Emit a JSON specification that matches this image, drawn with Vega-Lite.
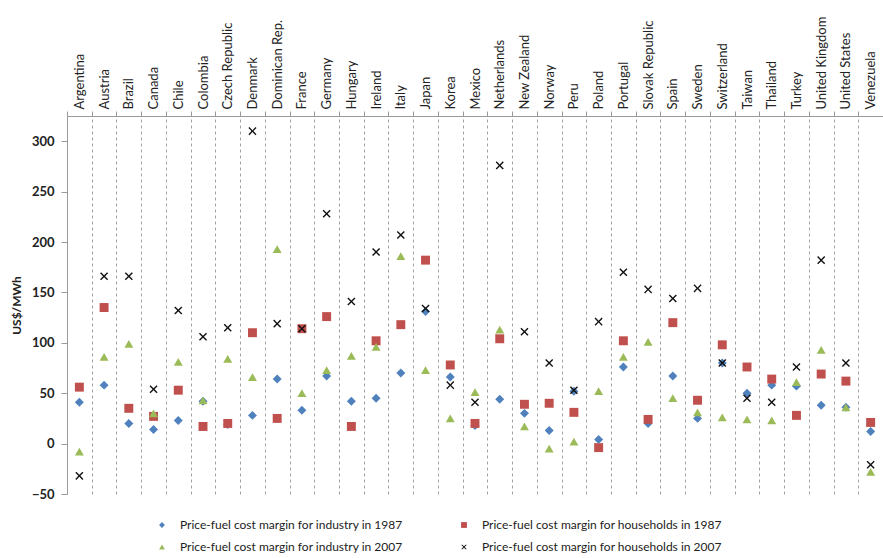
{
  "$schema": "https://vega.github.io/schema/vega-lite/v6.json",
  "width": 816,
  "height": 378,
  "autosize": {"type": "none"},
  "padding": {"left": 67, "top": 116, "right": 0, "bottom": 64},
  "background": "white",
  "config": {
    "view": {"stroke": null},
    "font": "Lato",
    "axis": {"labelColor": "#222", "titleColor": "#222", "labelFont": "Lato", "titleFont": "Lato"},
    "legend": {"labelFont": "Lato", "labelColor": "#222"}
  },
  "data": {
    "values": [
      {"country": "Argentina", "series": "i87", "value": 41},
      {"country": "Austria", "series": "i87", "value": 58},
      {"country": "Brazil", "series": "i87", "value": 20},
      {"country": "Canada", "series": "i87", "value": 14},
      {"country": "Chile", "series": "i87", "value": 23},
      {"country": "Colombia", "series": "i87", "value": 42},
      {"country": "Czech Republic", "series": "i87", "value": 19},
      {"country": "Denmark", "series": "i87", "value": 28},
      {"country": "Dominican Rep.", "series": "i87", "value": 64},
      {"country": "France", "series": "i87", "value": 33},
      {"country": "Germany", "series": "i87", "value": 67},
      {"country": "Hungary", "series": "i87", "value": 42},
      {"country": "Ireland", "series": "i87", "value": 45},
      {"country": "Italy", "series": "i87", "value": 70},
      {"country": "Japan", "series": "i87", "value": 131},
      {"country": "Korea", "series": "i87", "value": 66},
      {"country": "Mexico", "series": "i87", "value": 18},
      {"country": "Netherlands", "series": "i87", "value": 44},
      {"country": "New Zealand", "series": "i87", "value": 30},
      {"country": "Norway", "series": "i87", "value": 13},
      {"country": "Peru", "series": "i87", "value": 52},
      {"country": "Poland", "series": "i87", "value": 4},
      {"country": "Portugal", "series": "i87", "value": 76},
      {"country": "Slovak Republic", "series": "i87", "value": 20},
      {"country": "Spain", "series": "i87", "value": 67},
      {"country": "Sweden", "series": "i87", "value": 25},
      {"country": "Switzerland", "series": "i87", "value": 80},
      {"country": "Taiwan", "series": "i87", "value": 50},
      {"country": "Thailand", "series": "i87", "value": 58},
      {"country": "Turkey", "series": "i87", "value": 57},
      {"country": "United Kingdom", "series": "i87", "value": 38},
      {"country": "United States", "series": "i87", "value": 36},
      {"country": "Venezuela", "series": "i87", "value": 12},

      {"country": "Argentina", "series": "h87", "value": 56},
      {"country": "Austria", "series": "h87", "value": 135},
      {"country": "Brazil", "series": "h87", "value": 35},
      {"country": "Canada", "series": "h87", "value": 27},
      {"country": "Chile", "series": "h87", "value": 53},
      {"country": "Colombia", "series": "h87", "value": 17},
      {"country": "Czech Republic", "series": "h87", "value": 20},
      {"country": "Denmark", "series": "h87", "value": 110},
      {"country": "Dominican Rep.", "series": "h87", "value": 25},
      {"country": "France", "series": "h87", "value": 114},
      {"country": "Germany", "series": "h87", "value": 126},
      {"country": "Hungary", "series": "h87", "value": 17},
      {"country": "Ireland", "series": "h87", "value": 102},
      {"country": "Italy", "series": "h87", "value": 118},
      {"country": "Japan", "series": "h87", "value": 182},
      {"country": "Korea", "series": "h87", "value": 78},
      {"country": "Mexico", "series": "h87", "value": 20},
      {"country": "Netherlands", "series": "h87", "value": 104},
      {"country": "New Zealand", "series": "h87", "value": 39},
      {"country": "Norway", "series": "h87", "value": 40},
      {"country": "Peru", "series": "h87", "value": 31},
      {"country": "Poland", "series": "h87", "value": -4},
      {"country": "Portugal", "series": "h87", "value": 102},
      {"country": "Slovak Republic", "series": "h87", "value": 24},
      {"country": "Spain", "series": "h87", "value": 120},
      {"country": "Sweden", "series": "h87", "value": 43},
      {"country": "Switzerland", "series": "h87", "value": 98},
      {"country": "Taiwan", "series": "h87", "value": 76},
      {"country": "Thailand", "series": "h87", "value": 64},
      {"country": "Turkey", "series": "h87", "value": 28},
      {"country": "United Kingdom", "series": "h87", "value": 69},
      {"country": "United States", "series": "h87", "value": 62},
      {"country": "Venezuela", "series": "h87", "value": 21},

      {"country": "Argentina", "series": "i07", "value": -8},
      {"country": "Austria", "series": "i07", "value": 86},
      {"country": "Brazil", "series": "i07", "value": 99},
      {"country": "Canada", "series": "i07", "value": 30},
      {"country": "Chile", "series": "i07", "value": 81},
      {"country": "Colombia", "series": "i07", "value": 43},
      {"country": "Czech Republic", "series": "i07", "value": 84},
      {"country": "Denmark", "series": "i07", "value": 66},
      {"country": "Dominican Rep.", "series": "i07", "value": 193},
      {"country": "France", "series": "i07", "value": 50},
      {"country": "Germany", "series": "i07", "value": 73},
      {"country": "Hungary", "series": "i07", "value": 87},
      {"country": "Ireland", "series": "i07", "value": 96},
      {"country": "Italy", "series": "i07", "value": 186},
      {"country": "Japan", "series": "i07", "value": 73},
      {"country": "Korea", "series": "i07", "value": 25},
      {"country": "Mexico", "series": "i07", "value": 51},
      {"country": "Netherlands", "series": "i07", "value": 113},
      {"country": "New Zealand", "series": "i07", "value": 17},
      {"country": "Norway", "series": "i07", "value": -5},
      {"country": "Peru", "series": "i07", "value": 2},
      {"country": "Poland", "series": "i07", "value": 52},
      {"country": "Portugal", "series": "i07", "value": 86},
      {"country": "Slovak Republic", "series": "i07", "value": 101},
      {"country": "Spain", "series": "i07", "value": 45},
      {"country": "Sweden", "series": "i07", "value": 31},
      {"country": "Switzerland", "series": "i07", "value": 26},
      {"country": "Taiwan", "series": "i07", "value": 24},
      {"country": "Thailand", "series": "i07", "value": 23},
      {"country": "Turkey", "series": "i07", "value": 61},
      {"country": "United Kingdom", "series": "i07", "value": 93},
      {"country": "United States", "series": "i07", "value": 36},
      {"country": "Venezuela", "series": "i07", "value": -28},

      {"country": "Argentina", "series": "h07", "value": -32},
      {"country": "Austria", "series": "h07", "value": 166},
      {"country": "Brazil", "series": "h07", "value": 166},
      {"country": "Canada", "series": "h07", "value": 54},
      {"country": "Chile", "series": "h07", "value": 132},
      {"country": "Colombia", "series": "h07", "value": 106},
      {"country": "Czech Republic", "series": "h07", "value": 115},
      {"country": "Denmark", "series": "h07", "value": 310},
      {"country": "Dominican Rep.", "series": "h07", "value": 119},
      {"country": "France", "series": "h07", "value": 114},
      {"country": "Germany", "series": "h07", "value": 228},
      {"country": "Hungary", "series": "h07", "value": 141},
      {"country": "Ireland", "series": "h07", "value": 190},
      {"country": "Italy", "series": "h07", "value": 207},
      {"country": "Japan", "series": "h07", "value": 134},
      {"country": "Korea", "series": "h07", "value": 58},
      {"country": "Mexico", "series": "h07", "value": 41},
      {"country": "Netherlands", "series": "h07", "value": 276},
      {"country": "New Zealand", "series": "h07", "value": 111},
      {"country": "Norway", "series": "h07", "value": 80},
      {"country": "Peru", "series": "h07", "value": 53},
      {"country": "Poland", "series": "h07", "value": 121},
      {"country": "Portugal", "series": "h07", "value": 170},
      {"country": "Slovak Republic", "series": "h07", "value": 153},
      {"country": "Spain", "series": "h07", "value": 144},
      {"country": "Sweden", "series": "h07", "value": 154},
      {"country": "Switzerland", "series": "h07", "value": 80},
      {"country": "Taiwan", "series": "h07", "value": 45},
      {"country": "Thailand", "series": "h07", "value": 41},
      {"country": "Turkey", "series": "h07", "value": 76},
      {"country": "United Kingdom", "series": "h07", "value": 182},
      {"country": "United States", "series": "h07", "value": 80},
      {"country": "Venezuela", "series": "h07", "value": -21}
    ]
  },
  "mark": {"type": "point", "filled": true, "opacity": 1, "size": 80},
  "encoding": {
    "x": {
      "field": "country",
      "type": "nominal",
      "sort": null,
      "scale": {"type": "band", "paddingInner": 0, "paddingOuter": 0},
      "axis": {
        "orient": "top",
        "title": null,
        "labelAngle": -90,
        "tickBand": "extent",
        "grid": true,
        "gridDash": [3, 3],
        "gridColor": "#a0a0a0",
        "gridWidth": 1,
        "domainColor": "#9a9a9a",
        "tickColor": "#9a9a9a",
        "tickSize": 5,
        "labelPadding": 2,
        "labelFontSize": 13,
        "labelLimit": 200
      }
    },
    "y": {
      "field": "value",
      "type": "quantitative",
      "scale": {"domain": [-50, 325], "nice": false, "zero": false},
      "axis": {
        "values": [-50, 0, 50, 100, 150, 200, 250, 300],
        "title": "US$/MWh",
        "titleFontSize": 12,
        "titleFontWeight": "bold",
        "titlePadding": 8,
        "grid": false,
        "domainColor": "#9a9a9a",
        "tickColor": "#9a9a9a",
        "tickSize": 6,
        "labelPadding": 7,
        "labelFontSize": 13,
        "labelFontWeight": "bold"
      }
    },
    "color": {
      "field": "series",
      "type": "nominal",
      "scale": {"domain": ["i87", "h87", "i07", "h07"], "range": ["#4F81BD", "#C0504D", "#9BBB59", "#111111"]},
      "legend": {
        "title": null,
        "orient": "none",
        "legendX": 89,
        "legendY": 403,
        "direction": "horizontal",
        "columns": 2,
        "columnPadding": 55,
        "rowPadding": 10,
        "symbolSize": 34,
        "labelOffset": 12,
        "labelFontSize": 12,
        "labelLimit": 300,
        "labelExpr": "{'i87':'Price-fuel cost margin for industry in 1987','h87':'Price-fuel cost margin for households in 1987','i07':'Price-fuel cost margin for industry in 2007','h07':'Price-fuel cost margin for households in 2007'}[datum.label]"
      }
    },
    "shape": {
      "field": "series",
      "type": "nominal",
      "scale": {"domain": ["i87", "h87", "i07", "h07"], "range": ["diamond", "square", "triangle-up", "M-0.68,-0.9L0,-0.22L0.68,-0.9L0.9,-0.68L0.22,0L0.9,0.68L0.68,0.9L0,0.22L-0.68,0.9L-0.9,0.68L-0.22,0L-0.9,-0.68Z"]}
    }
  }
}
